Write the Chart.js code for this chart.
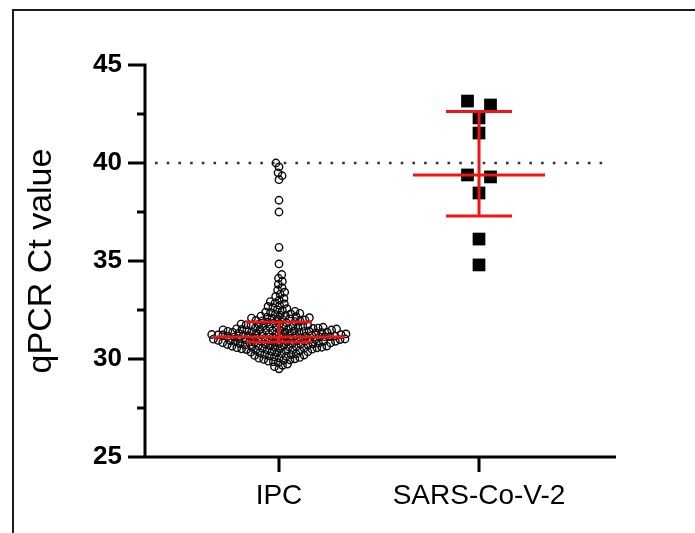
<!DOCTYPE html>
<html>
<head>
<meta charset="utf-8">
<script src="https://cdn.jsdelivr.net/npm/chart.js@4.4.0/dist/chart.umd.min.js"></script>
<style>
  html, body { margin: 0; padding: 0; background: #fff; }
</style>
</head>
<body>
<canvas id="chart" width="695" height="533"></canvas>
<script>
const categories = ['IPC', 'SARS-Co-V-2'];
const categoryX = [1, 2];
const yTickValues = [25, 27.5, 30, 32.5, 35, 37.5, 40, 42.5, 45];
const cutoffLine = [40];

// IPC Ct values
const ipcOutliers = [40.0, 39.8, 39.5, 39.35, 39.15, 38.1, 37.5, 35.7, 34.85];
const ipcUpper = [34.31, 34.12, 33.96, 33.81,
  33.64, 33.52, 33.41, 33.3, 33.19, 33.09, 33.01,
  32.93, 32.86, 32.81, 32.74, 32.68, 32.62, 32.57, 32.51, 32.47, 32.43, 32.39, 32.36,
  32.33, 32.3, 32.27, 32.24, 32.21, 32.19, 32.16, 32.14, 32.11, 32.09, 32.07, 32.05,
  32.03, 32.01, 31.99, 31.97, 31.95, 31.93];
const ipcMiddle = [31.91, 31.88, 31.85, 31.83, 31.8, 31.78, 31.76,
  31.74, 31.72, 31.71, 31.69, 31.68, 31.66, 31.65,
  31.64, 31.62, 31.61, 31.6, 31.58, 31.57, 31.56, 31.55,
  31.54, 31.53, 31.51, 31.5, 31.49, 31.48, 31.47, 31.46, 31.45,
  31.44, 31.43, 31.42, 31.41, 31.4, 31.39, 31.38, 31.37, 31.36, 31.35,
  31.34, 31.33, 31.32, 31.31, 31.3, 31.29, 31.28, 31.27, 31.26, 31.25,
  31.24, 31.23, 31.23, 31.22, 31.21, 31.2, 31.19, 31.18, 31.17, 31.16, 31.15,
  31.14, 31.14, 31.13, 31.12, 31.12, 31.11, 31.1, 31.09, 31.08, 31.07];
const ipcLower = [31.05, 31.04, 31.03, 31.02, 31.01, 31.0, 30.99, 30.98, 30.97, 30.96, 30.95,
  30.94, 30.93, 30.92, 30.91, 30.9, 30.9, 30.89, 30.88, 30.87, 30.86, 30.85,
  30.84, 30.83, 30.82, 30.81, 30.8, 30.79, 30.78, 30.77, 30.76, 30.75,
  30.74, 30.72, 30.71, 30.7, 30.68, 30.67, 30.66, 30.65, 30.64,
  30.63, 30.61, 30.6, 30.59, 30.58, 30.57, 30.56, 30.55,
  30.53, 30.52, 30.5, 30.48, 30.47, 30.46, 30.45,
  30.43, 30.41, 30.39, 30.37, 30.35,
  30.33, 30.31, 30.28, 30.26,
  30.24, 30.22, 30.2, 30.18, 30.16,
  30.14, 30.11, 30.08, 30.06,
  30.04, 30.01, 29.98, 29.96,
  29.93, 29.89, 29.86, 29.81, 29.74, 29.68, 29.61, 29.5];
const ipcValues = [...ipcOutliers, ...ipcUpper, ...ipcMiddle, ...ipcLower];

const sarsValues = [43.16, 42.96, 42.3, 41.53, 39.39, 39.29, 38.47, 36.12, 34.8];

// median with interquartile range, per category
const statQ1 = [30.87, 37.3];
const statMedian = [31.12, 39.39];
const statQ3 = [31.89, 42.63];

const FONT = "Arial, 'Liberation Sans', sans-serif";
const RED = '#f01414';

const framePlugin = {
  id: 'frame',
  beforeDraw(chart) {
    const ctx = chart.ctx;
    ctx.save();
    ctx.fillStyle = '#fff';
    ctx.fillRect(0, 0, chart.width, chart.height);
    ctx.strokeStyle = '#1a1a1a';
    ctx.lineWidth = 2;
    ctx.beginPath();
    ctx.moveTo(13, chart.height);
    ctx.lineTo(13, 10);
    ctx.lineTo(chart.width, 10);
    ctx.stroke();
    ctx.restore();
  }
};

const cutoffPlugin = {
  id: 'cutoff',
  beforeDatasetsDraw(chart) {
    const {ctx, chartArea: a, scales: {y}} = chart;
    ctx.save();
    ctx.strokeStyle = '#333';
    ctx.lineWidth = 2.6;
    ctx.setLineDash([2.6, 9.1]);
    cutoffLine.forEach(v => {
      const py = y.getPixelForValue(v);
      ctx.beginPath();
      ctx.moveTo(a.left + 10, py);
      ctx.lineTo(a.right - 6, py);
      ctx.stroke();
    });
    ctx.restore();
  }
};

const summaryPlugin = {
  id: 'summary',
  afterDatasetsDraw(chart) {
    const {ctx, scales: {x, y}} = chart;
    ctx.save();
    ctx.strokeStyle = RED;
    ctx.lineWidth = 3;
    categoryX.forEach((cx, i) => {
      const px = x.getPixelForValue(cx);
      const m = y.getPixelForValue(statMedian[i]);
      const lo = y.getPixelForValue(statQ1[i]);
      const hi = y.getPixelForValue(statQ3[i]);
      ctx.beginPath();
      ctx.moveTo(px - 66, m); ctx.lineTo(px + 66, m);
      ctx.moveTo(px, lo); ctx.lineTo(px, hi);
      ctx.moveTo(px - 33, lo); ctx.lineTo(px + 33, lo);
      ctx.moveTo(px - 33, hi); ctx.lineTo(px + 33, hi);
      ctx.stroke();
    });
    ctx.restore();
  }
};

const axesPlugin = {
  id: 'axes',
  afterDraw(chart) {
    const {ctx, chartArea: a, scales: {x, y}} = chart;
    ctx.save();
    ctx.strokeStyle = '#000';
    ctx.lineWidth = 3;
    ctx.beginPath();
    ctx.moveTo(a.left, a.top - 1.5);
    ctx.lineTo(a.left, a.bottom);
    ctx.moveTo(a.left - 1.5, a.bottom);
    ctx.lineTo(a.right, a.bottom);
    y.ticks.forEach(t => {
      const py = y.getPixelForValue(t.value);
      const len = t.value % 5 === 0 ? 17 : 8;
      ctx.moveTo(a.left - len, py);
      ctx.lineTo(a.left, py);
    });
    x.ticks.forEach(t => {
      const px = x.getPixelForValue(t.value);
      ctx.moveTo(px, a.bottom);
      ctx.lineTo(px, a.bottom + 15);
    });
    ctx.stroke();
    ctx.restore();
  }
};

const chart = new Chart(document.getElementById('chart'), {
  type: 'scatter',
  data: {
    datasets: [
      {
        label: categories[0],
        data: ipcValues.map(v => ({x: categoryX[0], y: v})),
        pointStyle: 'circle',
        pointRadius: 3.7,
        pointBorderWidth: 1.4,
        borderColor: '#0a0a0a',
        backgroundColor: 'rgba(0,0,0,0)'
      },
      {
        label: categories[1],
        data: sarsValues.map(v => ({x: categoryX[1], y: v})),
        pointStyle: 'rect',
        pointRadius: 9,
        pointBorderWidth: 0,
        borderColor: '#000',
        backgroundColor: '#000'
      }
    ]
  },
  options: {
    responsive: false,
    animation: false,
    devicePixelRatio: 1,
    layout: { padding: { top: 65, right: 79, bottom: 0, left: 0 } },
    plugins: { legend: { display: false }, tooltip: { enabled: false } },
    scales: {
      x: {
        type: 'linear',
        min: 0.33,
        max: 2.685,
        grid: { display: false, drawTicks: false },
        border: { display: false },
        afterBuildTicks: s => { s.ticks = categoryX.map(v => ({ value: v })); },
        afterFit: s => { s.height = 76; },
        ticks: {
          autoSkip: false,
          maxRotation: 0,
          padding: 22,
          color: '#000',
          font: { family: FONT, size: 28 },
          callback: v => categories[categoryX.indexOf(v)]
        }
      },
      y: {
        min: 25,
        max: 45,
        grid: { display: false, drawTicks: false },
        border: { display: false },
        afterBuildTicks: s => { s.ticks = yTickValues.map(v => ({ value: v })); },
        afterFit: s => { s.width = 145; },
        ticks: {
          autoSkip: false,
          padding: 23,
          color: '#000',
          font: { family: FONT, size: 26, weight: 'bold' },
          callback: v => (v % 5 === 0 ? v : '')
        },
        title: {
          display: true,
          text: 'qPCR Ct value',
          color: '#000',
          font: { family: FONT, size: 34 },
          padding: { top: 21, bottom: 0 }
        }
      }
    }
  },
  plugins: [framePlugin, cutoffPlugin, summaryPlugin, axesPlugin]
});

// beeswarm layout in pixel space, using the chart's own scales
function swarmOffsets(values, dist) {
  const ys = chart.scales.y;
  const pts = values.map((v, i) => ({ i, py: ys.getPixelForValue(v) }));
  pts.sort((a, b) => b.py - a.py);
  const placed = [];
  const out = new Array(values.length).fill(0);
  pts.forEach((p, k) => {
    const near = placed.filter(q => Math.abs(q.py - p.py) < dist);
    const cands = [0];
    near.forEach(q => {
      const dx = Math.sqrt(dist * dist - (q.py - p.py) ** 2);
      cands.push(q.x + dx, q.x - dx);
    });
    cands.sort((a, b) => Math.abs(a) - Math.abs(b) || (k % 2 ? a - b : b - a));
    let x = 0;
    for (const c of cands) {
      if (near.every(q => (q.x - c) ** 2 + (q.py - p.py) ** 2 >= dist * dist - 0.01)) { x = c; break; }
    }
    placed.push({ x, py: p.py });
    out[p.i] = x;
  });
  return out;
}

// row layout: close values share a row, centred on the category
function rowOffsets(values, rowH, step) {
  const ys = chart.scales.y;
  const idx = values.map((v, i) => i).sort((a, b) => values[b] - values[a]);
  const rows = [];
  idx.forEach(i => {
    const py = ys.getPixelForValue(values[i]);
    const r = rows[rows.length - 1];
    if (r && py - r.top < rowH) r.items.push(i);
    else rows.push({ top: py, items: [i] });
  });
  const out = [];
  rows.forEach(r => r.items.forEach((i, k) => { out[i] = (k - (r.items.length - 1) / 2) * step; }));
  return out;
}

const xs = chart.scales.x;
const toX = (cx, off) => xs.getValueForPixel(xs.getPixelForValue(cx) + off);
const ipcOff = swarmOffsets(ipcValues, 5);
const sarsOff = rowOffsets(sarsValues, 10, 23);
chart.data.datasets[0].data = ipcValues.map((v, i) => ({ x: toX(categoryX[0], ipcOff[i]), y: v }));
chart.data.datasets[1].data = sarsValues.map((v, i) => ({ x: toX(categoryX[1], sarsOff[i]), y: v }));
chart.update();
</script>
</body>
</html>
